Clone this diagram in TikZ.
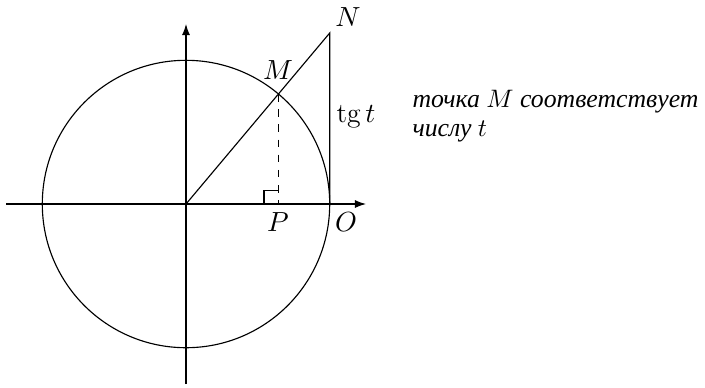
\documentclass[tikz,border=0pt]{standalone}
\usepackage{fontspec}
\usetikzlibrary{arrows.meta}
\newfontfamily\cyrfont{Liberation Serif}
\begin{document}
\begin{tikzpicture}[x=0.396pt,y=-0.396pt,line width=0.45pt,
  axis/.style={-{Latex[length=4.4pt,width=3.2pt]}},
  lbl/.style={inner sep=0pt,font=\fontsize{11}{13}\selectfont},
  txt/.style={inner sep=0pt,anchor=base west,font=\fontsize{10.2}{12}\selectfont\cyrfont\itshape}]
\useasboundingbox (0,0) rectangle (705,387);
\coordinate (C) at (186,204);
\coordinate (O) at (329.7,204);
\coordinate (N) at (329.7,33);
\coordinate (M) at (278.4,94.1);
\coordinate (P) at (278.4,204);
\coordinate (XL) at (6,204);
\coordinate (XR) at (366,204);
\coordinate (YB) at (186,384);
\coordinate (YT) at (186,24);
\draw (C) circle[radius=2cm];
\draw[axis] (XL) -- (XR);
\draw[axis] (YB) -- (YT);
\draw (C) -- (N) -- (O);
\draw[dashed] (M) -- (P);
\draw (264,204) -- (264,190.5) -- (P |- 0,190.5);
\node[lbl] (lN) at (348,17) {$N$};
\node[lbl] (lM) at (278,70) {$M$};
\node[lbl] (lP) at (278,222) {$P$};
\node[lbl] (lO) at (346,222) {$O$};
\node[lbl] (ltg) at (356,117) {$\mathrm{tg}\,t$};
\node[txt] (t1) at (412,107) {точка $M$ соответствует};
\node[txt] (t2) at (412,136) {числу $t$};
\end{tikzpicture}
\end{document}
